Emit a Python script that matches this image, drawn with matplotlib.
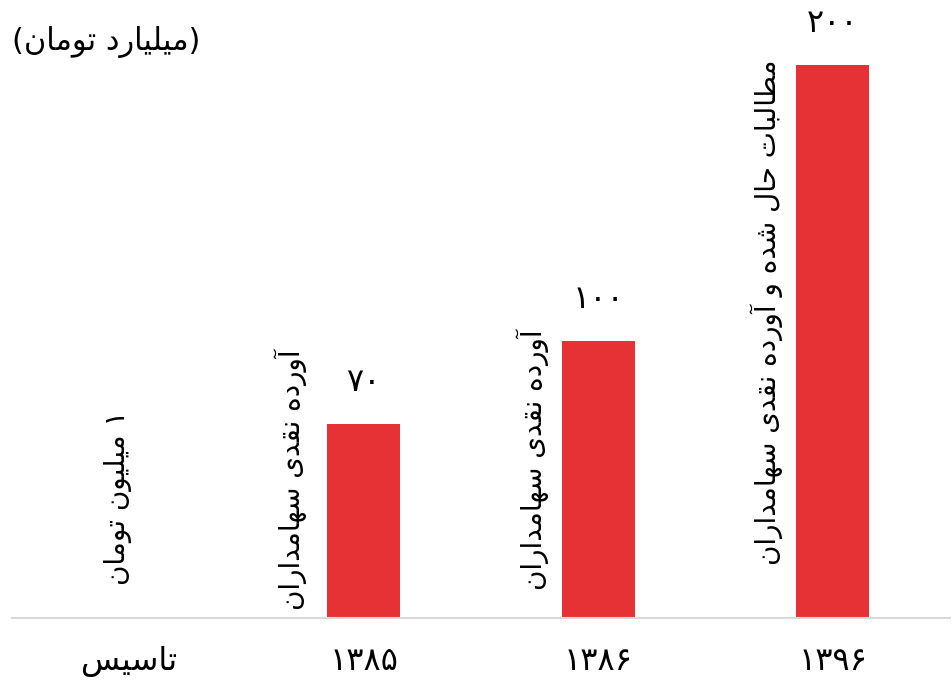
import matplotlib
matplotlib.use("Agg")
import matplotlib.pyplot as plt

# data (billion toman)
categories = ["تاسیس", "۱۳۸۵", "۱۳۸۶", "۱۳۹۶"]
values = [0.001, 70, 100, 200]
notes = ["۱ میلیون تومان", "آورده نقدی سهامداران", "آورده نقدی سهامداران",
         "مطالبات حال شده و آورده نقدی سهامداران"]
unit_label = "(میلیارد تومان)"

# --- minimal Persian shaping (matplotlib has no bidi / joining support) ---
FORMS = {
    "ا": ("\uFE8D", "\uFE8E"), "آ": ("\uFE81", "\uFE82"),
    "د": ("\uFEA9", "\uFEAA"), "ر": ("\uFEAD", "\uFEAE"),
    "و": ("\uFEED", "\uFEEE"),
    "ب": ("\uFE8F", "\uFE90", "\uFE91", "\uFE92"),
    "ت": ("\uFE95", "\uFE96", "\uFE97", "\uFE98"),
    "ح": ("\uFEA1", "\uFEA2", "\uFEA3", "\uFEA4"),
    "س": ("\uFEB1", "\uFEB2", "\uFEB3", "\uFEB4"),
    "ش": ("\uFEB5", "\uFEB6", "\uFEB7", "\uFEB8"),
    "ط": ("\uFEC1", "\uFEC2", "\uFEC3", "\uFEC4"),
    "ق": ("\uFED5", "\uFED6", "\uFED7", "\uFED8"),
    "ل": ("\uFEDD", "\uFEDE", "\uFEDF", "\uFEE0"),
    "م": ("\uFEE1", "\uFEE2", "\uFEE3", "\uFEE4"),
    "ن": ("\uFEE5", "\uFEE6", "\uFEE7", "\uFEE8"),
    "ه": ("\uFEE9", "\uFEEA", "\uFEEB", "\uFEEC"),
    "ی": ("\uFBFC", "\uFBFD", "\uFBFE", "\uFBFF"),
}
MIRROR = {"(": ")", ")": "("}
DIGITS = "۰۱۲۳۴۵۶۷۸۹0123456789"


def shape(text):
    out = []
    n = len(text)
    i = 0
    while i < n:
        c = text[i]
        if c in DIGITS:
            # keep digit runs left-to-right
            j = i
            while j < n and text[j] in DIGITS:
                j += 1
            out.append(text[i:j][::-1])
            i = j
            continue
        if c not in FORMS:
            out.append(MIRROR.get(c, c))
            i += 1
            continue
        prev = text[i - 1] if i > 0 else ""
        joins_prev = prev in FORMS and len(FORMS[prev]) == 4 and not (
            out and out[-1] in ("\uFEFB", "\uFEFC"))
        nxt = text[i + 1] if i + 1 < n else ""
        if c == "ل" and nxt in ("ا", "آ"):
            lig = {"ا": ("\uFEFB", "\uFEFC"), "آ": ("\uFEF5", "\uFEF6")}[nxt]
            out.append(lig[1] if joins_prev else lig[0])
            i += 2
            continue
        f = FORMS[c]
        joins_next = len(f) == 4 and nxt in FORMS
        if joins_prev and joins_next:
            out.append(f[3])
        elif joins_prev:
            out.append(f[1])
        elif joins_next:
            out.append(f[2])
        else:
            out.append(f[0])
        i += 1
    return "".join(reversed("".join(out)))


def fa_digits(v):
    return str(v).translate(str.maketrans("0123456789", "۰۱۲۳۴۵۶۷۸۹"))


plt.rcParams["font.family"] = ["DejaVu Sans", "Noto Sans"]

fig = plt.figure(figsize=(9.52, 6.82), dpi=100)
ax = fig.add_axes([12 / 952, 64 / 682, 938 / 952, 618 / 682])

x = list(range(len(categories)))
bars = ax.bar(x, values, width=0.31, color="#e63235")

for i, b in enumerate(bars):
    if values[i] >= 1:
        ax.annotate(fa_digits(values[i]), (b.get_x() + b.get_width() / 2, b.get_height()),
                    xytext=(0, 30), textcoords="offset points",
                    ha="center", va="center", fontsize=23)

note_dx = [-0.05, -0.31, -0.28, -0.28]
note_y = [12, 3, 10, 19]
for i, t in enumerate(notes):
    ax.text(x[i] + note_dx[i], note_y[i], shape(t), rotation=90,
            ha="center", va="bottom", fontsize=20)

ax.set_xlim(-0.5, 3.5)
ax.set_ylim(0, 223.5)
ax.set_xticks(x)
ax.set_xticklabels([shape(c) for c in categories], fontsize=23)
ax.tick_params(axis="x", length=0, pad=20)
ax.set_yticks([])
for s in ["top", "left", "right"]:
    ax.spines[s].set_visible(False)
ax.spines["bottom"].set_color("#d9d9d9")
ax.spines["bottom"].set_linewidth(1.5)

fig.text(12 / 952, 1 - 42 / 682, shape(unit_label), ha="left", va="center", fontsize=22)

fig.savefig("out.png", dpi=100)
